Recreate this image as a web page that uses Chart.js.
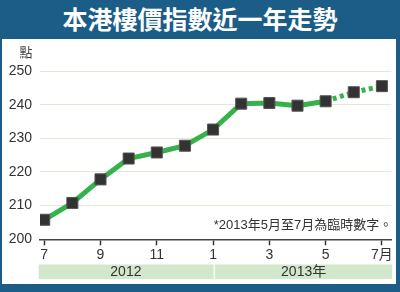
<!DOCTYPE html>
<html>
<head>
<meta charset="UTF-8">
<script src="https://cdn.jsdelivr.net/npm/chart.js@4.4.1/dist/chart.umd.min.js"></script>
<title>本港樓價指數近一年走勢</title>
<style>
	body { margin: 0; width: 400px; height: 292px; background: #1b5d87; position: relative; overflow: hidden; }
	#title { position: absolute; left: 0; top: 0; width: 400px; height: 39px; line-height: 39px; text-align: center;
		color: #fff; font: 700 25px "Noto Sans CJK TC", sans-serif; }
	#panel { position: absolute; left: 2px; top: 39px; width: 394px; height: 245px; background: #fff; }
	#chart { position: absolute; left: 0; top: 0; }
</style>
</head>
<body>
	<div id="title">本港樓價指數近一年走勢</div>
	<div id="panel"></div>
	<canvas id="chart" width="400" height="292"></canvas>
	<script>
		// 月份 (2012年7月 至 2013年7月)
		var monthLabels = ['7', '8', '9', '10', '11', '12', '1', '2', '3', '4', '5', '6', '7月'];
		var priceIndex = [205.8, 210.8, 217.8, 224.0, 225.8, 227.8, 232.6, 240.3, 240.5, 239.7, 241.0, 243.7, 245.5];
		var shownTicks = [0, 2, 4, 6, 8, 10, 12];
		var yearLabels = ['2012', '2013年'];
		var provisionalFrom = 10; // 5月起為臨時數字
		var noteText = '*2013年5月至7月為臨時數字。';
		var unitText = '點';

		var points = priceIndex.map(function (v, i) { return { x: i, y: v }; });

		// 年份底條, 註釋, 單位
		var extras = {
			id: 'extras',
			beforeDraw: function (chart) {
				var ctx = chart.ctx, x = chart.scales.x, y = chart.scales.y;
				var split = x.getPixelForValue(6);
				ctx.save();
				ctx.fillStyle = '#d2e8cb';
				ctx.fillRect(x.left - 1.3, 264.5, split + 0.5 - (x.left - 1.3), 14.5);
				ctx.fillRect(split + 2, 264.5, x.right + 1 - (split + 2), 14.5);
				ctx.fillStyle = '#333';
				ctx.textAlign = 'center';
				ctx.textBaseline = 'middle';
				ctx.font = '14px "Liberation Sans", "Noto Sans CJK TC", sans-serif';
				ctx.fillText(yearLabels[0], (x.left - 1.3 + split) / 2, 272.5);
				ctx.fillText(yearLabels[1], (split + 2 + x.right + 1) / 2, 272.5);
				ctx.font = '13px "Noto Sans CJK TC", sans-serif';
				ctx.fillStyle = '#444';
				ctx.fillText(unitText, 26, 52);
				ctx.restore();
			},
			afterDraw: function (chart) {
				var ctx = chart.ctx, x = chart.scales.x;
				ctx.save();
				ctx.fillStyle = '#333';
				ctx.textAlign = 'right';
				ctx.textBaseline = 'middle';
				ctx.font = '13px "Liberation Sans", "Noto Sans CJK TC", sans-serif';
				ctx.fillText(noteText, x.right + 1, 225);
				ctx.restore();
			}
		};

		new Chart(document.getElementById('chart').getContext('2d'), {
			type: 'line',
			data: {
				datasets: [{
					data: points,
					borderColor: '#36b24a',
					borderWidth: 5,
					fill: false,
					tension: 0,
					pointStyle: 'rect',
					pointRadius: 7.8,
					pointBackgroundColor: '#333333',
					pointBorderColor: '#555555',
					pointBorderWidth: 1,
					segment: {
						borderDash: function (c) { return c.p0DataIndex >= provisionalFrom ? [4, 3.5] : undefined; }
					}
				}]
			},
			options: {
				responsive: false,
				animation: false,
				layout: { padding: { top: 71, right: 8, bottom: 0, left: 0 } },
				plugins: { legend: { display: false }, tooltip: { enabled: false } },
				scales: {
					x: {
						type: 'linear',
						min: -0.15,
						max: 12.33,
						afterFit: function (s) { s.height = 52.7; },
						afterBuildTicks: function (s) { s.ticks = shownTicks.map(function (v) { return { value: v }; }); },
						border: { display: true, color: '#444', width: 1.5 },
						grid: { drawOnChartArea: false, drawTicks: true, tickLength: 6, tickColor: '#333', tickWidth: 1.5 },
						ticks: {
							autoSkip: false,
							maxRotation: 0,
							padding: 1,
							color: '#333',
							font: { size: 14, family: '"Liberation Sans", "Noto Sans CJK TC", sans-serif' },
							callback: function (v) { return monthLabels[v]; }
						}
					},
					y: {
						min: 200,
						max: 250,
						afterFit: function (s) { s.width = 40; },
						border: { display: false },
						grid: { color: '#dcecd7', lineWidth: 1, drawTicks: false },
						ticks: {
							stepSize: 10,
							padding: 8,
							color: '#333',
							font: { size: 14, family: '"Liberation Sans", sans-serif' }
						}
					}
				}
			},
			plugins: [extras]
		});
	</script>
</body>
</html>
